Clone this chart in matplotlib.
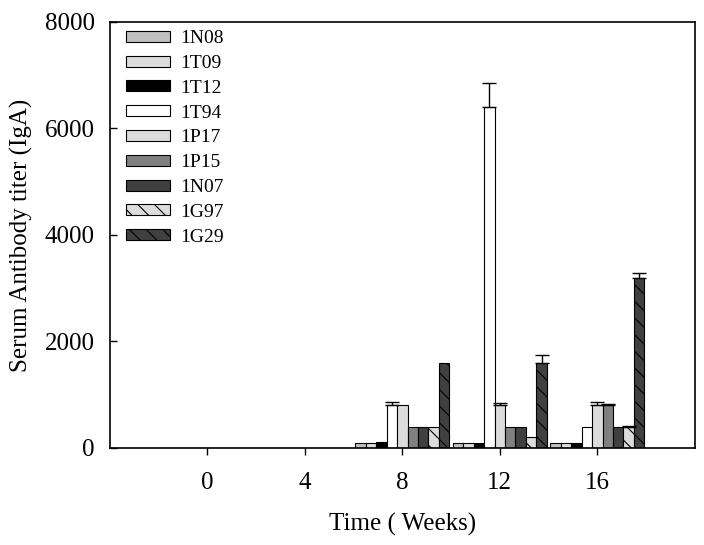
import numpy as np
import matplotlib
matplotlib.use("Agg")
import matplotlib.pyplot as plt

plt.rcParams["font.family"] = ["Liberation Serif", "DejaVu Serif"]
plt.rcParams["hatch.linewidth"] = 0.8

weeks = ["0", "4", "8", "12", "16"]
strains = ["1N08", "1T09", "1T12", "1T94", "1P17", "1P15", "1N07", "1G97", "1G29"]

# titer per strain at weeks 0, 4, 8, 12, 16
titer = {
    "1N08": [0, 0, 100, 100, 100],
    "1T09": [0, 0, 100, 100, 100],
    "1T12": [0, 0, 120, 100, 100],
    "1T94": [0, 0, 800, 6400, 400],
    "1P17": [0, 0, 800, 800, 800],
    "1P15": [0, 0, 400, 400, 800],
    "1N07": [0, 0, 400, 400, 400],
    "1G97": [0, 0, 400, 200, 400],
    "1G29": [0, 0, 1600, 1600, 3200],
}
# upper error bars
errors = {
    "1N08": [0, 0, 0, 0, 0],
    "1T09": [0, 0, 0, 0, 0],
    "1T12": [0, 0, 0, 0, 0],
    "1T94": [0, 0, 60, 450, 0],
    "1P17": [0, 0, 0, 50, 70],
    "1P15": [0, 0, 0, 0, 30],
    "1N07": [0, 0, 0, 0, 0],
    "1G97": [0, 0, 0, 0, 20],
    "1G29": [0, 0, 0, 150, 90],
}

faces = ["#c0c0c0", "#dcdcdc", "#000000", "#ffffff", "#dcdcdc",
         "#808080", "#404040", "#dcdcdc", "#404040"]
hatches = [None, None, None, None, None, None, None, "\\\\", "\\\\"]

fig, ax = plt.subplots(figsize=(7.04, 5.45), dpi=100)
fig.subplots_adjust(left=0.156, right=0.987, top=0.96, bottom=0.178)

x = np.arange(len(weeks))
w = 0.107
for i, s in enumerate(strains):
    pos = x + (i - 4) * w
    vals = np.array(titer[s])
    err = np.array(errors[s])
    ax.bar(pos, vals, width=w, color=faces[i], edgecolor="black",
           linewidth=0.8, hatch=hatches[i], label=s)
    mask = err > 0
    if mask.any():
        ax.errorbar(pos[mask], vals[mask], yerr=[np.zeros(mask.sum()), err[mask]],
                    fmt="none", ecolor="black", elinewidth=1, capsize=5, capthick=1)

ax.set_xlim(-1, 5)
ax.set_ylim(0, 8000)
ax.set_xticks(x)
ax.set_xticklabels(weeks)
ax.set_yticks([0, 2000, 4000, 6000, 8000])
ax.tick_params(labelsize=18, length=5, width=1)
ax.tick_params(axis="x", direction="out", pad=12)
ax.tick_params(axis="y", direction="in", pad=11)
ax.set_xlabel("Time ( Weeks)", fontsize=18, labelpad=14)
ax.set_ylabel("Serum Antibody titer (IgA)", fontsize=18, labelpad=8)
for sp in ax.spines.values():
    sp.set_linewidth(1.2)

ax.legend(loc="upper left", frameon=False, fontsize=14, handlelength=2.25,
          handleheight=0.5, labelspacing=0.4, borderaxespad=0.3,
          handletextpad=0.5, bbox_to_anchor=(0.005, 1.012))

fig.savefig("out.png", dpi=100)
